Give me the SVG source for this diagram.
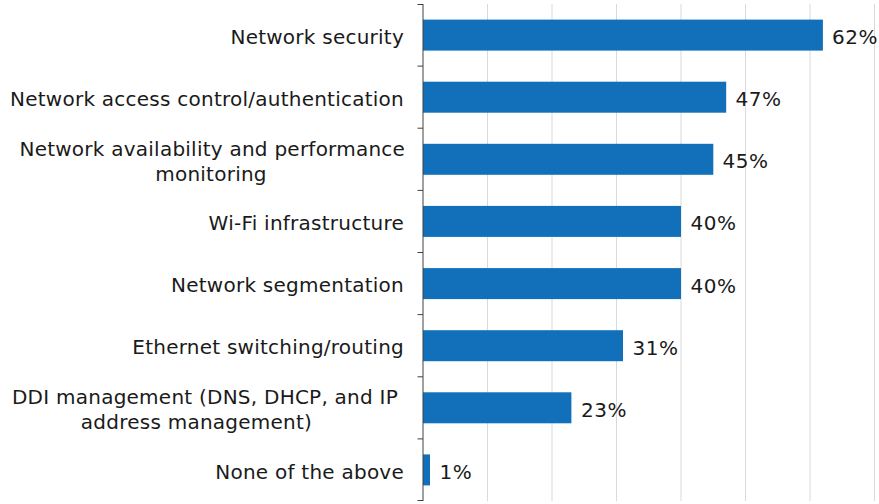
<svg xmlns="http://www.w3.org/2000/svg" width="879" height="504" viewBox="0 0 879 504">
  <style>
    .grid { stroke: #d9d9d9; stroke-width: 1; }
    .axis { stroke: #404040; stroke-width: 1; fill: none; }
    .bar { fill: #1170b9; }
    text { font-family: Verdana, "DejaVu Sans", sans-serif; font-size: 20px; letter-spacing: 0.24px; fill: #1a1a1a; }
    .cat { text-anchor: end; }
    .cat2 { text-anchor: middle; }
    .val { text-anchor: start; letter-spacing: 0.5px; }
  </style>
  <rect width="879" height="504" fill="#ffffff"/>

  <!-- vertical gridlines every 10% (6.45 px per percent) -->
  <g id="gridlines">
    <line class="grid" x1="487.5" y1="4" x2="487.5" y2="501"/>
    <line class="grid" x1="552" y1="4" x2="552" y2="501"/>
    <line class="grid" x1="616.5" y1="4" x2="616.5" y2="501"/>
    <line class="grid" x1="681" y1="4" x2="681" y2="501"/>
    <line class="grid" x1="745.5" y1="4" x2="745.5" y2="501"/>
    <line class="grid" x1="810" y1="4" x2="810" y2="501"/>
    <line class="grid" x1="874.5" y1="4" x2="874.5" y2="501"/>
  </g>

  <!-- bars and labels, one row per category -->
  <g id="row-network-security">
    <rect class="bar" x="423" y="19.6" width="399.9" height="31"/>
    <text class="cat" x="404" y="43.8">Network security</text>
    <text class="val" x="832" y="44">62%</text>
  </g>
  <g id="row-access-control">
    <rect class="bar" x="423" y="81.7" width="303.2" height="31"/>
    <text class="cat" x="404" y="105.9">Network access control/authentication</text>
    <text class="val" x="735.5" y="106.2">47%</text>
  </g>
  <g id="row-availability">
    <rect class="bar" x="423" y="143.8" width="290.3" height="31"/>
    <text class="cat2" x="212.3" y="155.8">Network availability and performance</text>
    <text class="cat2" x="211" y="180.8">monitoring</text>
    <text class="val" x="722.5" y="168.3">45%</text>
  </g>
  <g id="row-wifi">
    <rect class="bar" x="423" y="205.9" width="258" height="31"/>
    <text class="cat" x="404" y="230.1">Wi-Fi infrastructure</text>
    <text class="val" x="690.5" y="230.4">40%</text>
  </g>
  <g id="row-segmentation">
    <rect class="bar" x="423" y="268.1" width="258" height="31"/>
    <text class="cat" x="404" y="292.2">Network segmentation</text>
    <text class="val" x="690.5" y="292.5">40%</text>
  </g>
  <g id="row-ethernet">
    <rect class="bar" x="423" y="330.2" width="200" height="31"/>
    <text class="cat" x="404" y="354.4">Ethernet switching/routing</text>
    <text class="val" x="632.5" y="354.7">31%</text>
  </g>
  <g id="row-ddi">
    <rect class="bar" x="423" y="392.3" width="148.4" height="31"/>
    <text class="cat2" x="205" y="404.3">DDI management (DNS, DHCP, and IP</text>
    <text class="cat2" x="196.5" y="429.3">address management)</text>
    <text class="val" x="581" y="416.8">23%</text>
  </g>
  <g id="row-none">
    <rect class="bar" x="423" y="454.4" width="7" height="31"/>
    <text class="cat" x="404" y="478.6">None of the above</text>
    <text class="val" x="439.5" y="478.9">1%</text>
  </g>

  <!-- category axis with tick marks between bands -->
  <g id="axis">
    <line class="axis" x1="423" y1="4" x2="423" y2="501"/>
    <path class="axis" d="M417.5 4.5H423 M417.5 66.1H423 M417.5 128.2H423 M417.5 190.4H423 M417.5 252.5H423 M417.5 314.6H423 M417.5 376.8H423 M417.5 438.9H423 M417.5 500.5H423"/>
  </g>
</svg>
